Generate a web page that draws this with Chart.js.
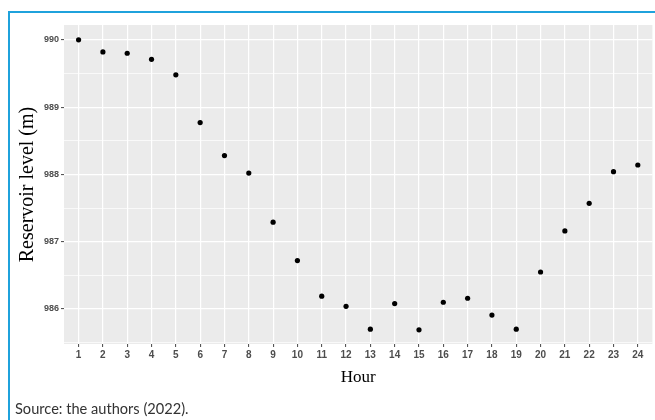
<!DOCTYPE html>
<html>
<head>
<meta charset="utf-8">
<script src="https://cdn.jsdelivr.net/npm/chart.js@4"></script>
<style>
  html, body { margin: 0; padding: 0; background: #fff; }
  #wrap { position: relative; width: 655px; height: 420px; overflow: hidden; }
  #chart { position: absolute; left: 0; top: 0; }
  #frame {
    position: absolute; left: 8px; top: 11px; right: -4px; bottom: -4px;
    border-left: 2px solid #1fa2dc; border-top: 2px solid #1fa2dc;
  }
  #source {
    position: absolute; left: 15px; top: 400px;
    font-family: Lato, "Open Sans", sans-serif; font-size: 14.6px; color: #333;
    white-space: nowrap;
  }
</style>
</head>
<body>
<div id="wrap">
  <canvas id="chart" width="655" height="420"></canvas>
  <div id="frame"></div>
  <div id="source">Source: the authors (2022).</div>
</div>
<script>
// Hourly reservoir level over one day
const hours = [1, 2, 3, 4, 5, 6, 7, 8, 9, 10, 11, 12, 13, 14, 15, 16, 17, 18, 19, 20, 21, 22, 23, 24];
const levels = [990.00, 989.82, 989.80, 989.71, 989.48, 988.77, 988.28, 988.02, 987.29, 986.72, 986.19, 986.04,
                985.70, 986.08, 985.69, 986.10, 986.16, 985.91, 985.70, 986.55, 987.16, 987.57, 988.04, 988.14];
const yMajorTicks = [986, 987, 988, 989, 990];
const yMinorTicks = [985.5, 986.5, 987.5, 988.5, 989.5];

const points = hours.map((h, i) => ({ x: h, y: levels[i] }));

// grey panel behind the grid
const panelBg = {
  id: 'panelBg',
  beforeDraw(chart) {
    const { ctx, chartArea: a } = chart;
    ctx.save();
    ctx.fillStyle = '#ebebeb';
    ctx.fillRect(a.left, a.top, a.right - a.left, a.bottom - a.top);
    ctx.restore();
  }
};

const isMajor = v => yMajorTicks.includes(v);
const tickFont = '"Liberation Sans", Arial, sans-serif';

new Chart(document.getElementById('chart'), {
  type: 'scatter',
  data: {
    datasets: [{
      data: points,
      backgroundColor: '#000',
      borderWidth: 0,
      pointRadius: 2.6,
      pointHoverRadius: 2.6
    }]
  },
  options: {
    responsive: false,
    animation: false,
    events: [],
    layout: { padding: { top: 25, right: 2, left: 0, bottom: 0 } },
    plugins: { legend: { display: false }, tooltip: { enabled: false } },
    scales: {
      x: {
        type: 'linear',
        min: 0.4,
        max: 24.6,
        afterBuildTicks: s => { s.ticks = hours.map(v => ({ value: v })); },
        afterFit: s => { s.height = 76; },
        border: { display: false },
        grid: { color: '#ffffff', lineWidth: 1.2, tickLength: 3, tickColor: '#444', tickWidth: 1 },
        ticks: {
          padding: 2,
          color: '#4d4d4d',
          font: { family: tickFont, size: 10, weight: 'bold' },
          maxRotation: 0,
          autoSkip: false
        },
        title: {
          display: true,
          text: 'Hour',
          color: '#000',
          font: { family: '"Liberation Serif", "DejaVu Serif", serif', size: 17 },
          padding: { top: 0, bottom: 32 }
        }
      },
      y: {
        type: 'linear',
        min: 985.48,
        max: 990.22,
        afterBuildTicks: s => {
          s.ticks = [...yMinorTicks, ...yMajorTicks].sort((a, b) => a - b).map(v => ({ value: v }));
        },
        afterFit: s => { s.width = 64; },
        border: { display: false },
        grid: {
          color: '#ffffff',
          lineWidth: c => isMajor(c.tick.value) ? 1.2 : 0.7,
          tickLength: 3,
          tickColor: c => isMajor(c.tick.value) ? '#444' : 'rgba(0,0,0,0)',
          tickWidth: 1
        },
        ticks: {
          padding: 2,
          color: '#4d4d4d',
          font: { family: tickFont, size: 9, weight: 'bold' },
          callback: v => isMajor(v) ? String(v) : ''
        },
        title: {
          display: true,
          text: 'Reservoir level (m)',
          color: '#000',
          font: { family: '"Liberation Serif", "DejaVu Serif", serif', size: 20 },
          padding: { top: 16, bottom: 0 }
        }
      }
    }
  },
  plugins: [panelBg]
});
</script>
</body>
</html>
